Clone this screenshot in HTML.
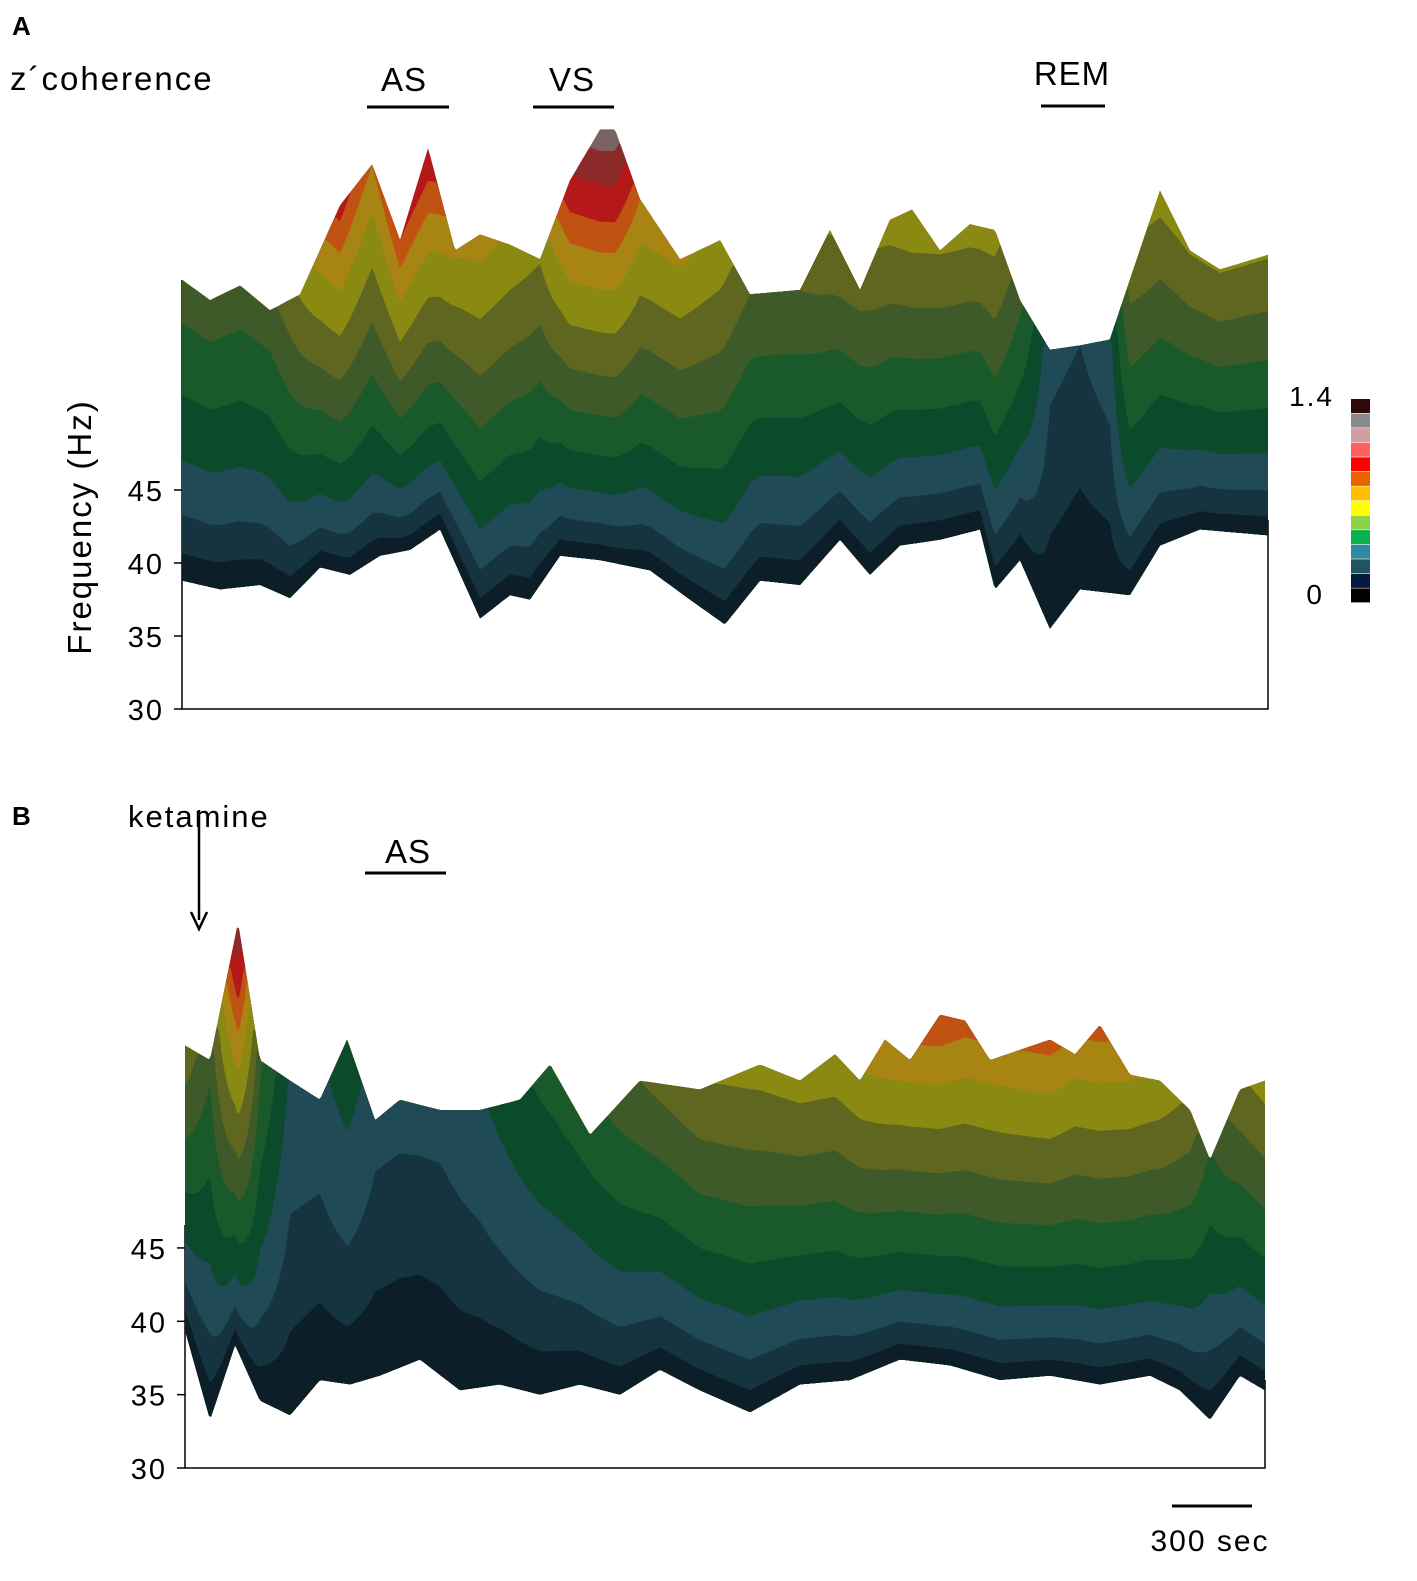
<!DOCTYPE html>
<html><head><meta charset="utf-8"><style>
html,body{margin:0;padding:0;background:#fff;}
svg{display:block;font-family:"Liberation Sans","DejaVu Sans",sans-serif;}
</style></head><body>
<svg id="fig" width="1417" height="1581" viewBox="0 0 1417 1581" xmlns="http://www.w3.org/2000/svg">
<g id="panelA"></g>
<g id="panelB"></g>
<g fill="#000">
 <text x="12" y="35" font-size="26" font-weight="bold">A</text>
 <text x="10" y="90" font-size="33" letter-spacing="2">z´coherence</text>
 <text x="404" y="91" font-size="33" letter-spacing="1" text-anchor="middle">AS</text>
 <line x1="367" y1="107" x2="449" y2="107" stroke="#000" stroke-width="3"/>
 <text x="572" y="91" font-size="33" letter-spacing="1" text-anchor="middle">VS</text>
 <line x1="533" y1="107" x2="614" y2="107" stroke="#000" stroke-width="3"/>
 <text x="1072" y="85" font-size="33" letter-spacing="1" text-anchor="middle">REM</text>
 <line x1="1041" y1="106" x2="1105" y2="106" stroke="#000" stroke-width="3"/>
 <text transform="translate(91,527) rotate(-90)" font-size="33" letter-spacing="2" text-anchor="middle">Frequency (Hz)</text>
 <text x="1334" y="406" font-size="28" letter-spacing="2" text-anchor="end">1.4</text>
 <text x="1322" y="604" font-size="28" text-anchor="end">0</text>
 <g id="cbar"></g>
 <text x="12" y="825" font-size="26" font-weight="bold">B</text>
 <text x="128" y="827" font-size="31" letter-spacing="2">ketamine</text>
 <line x1="199" y1="810" x2="199" y2="920" stroke="#000" stroke-width="2.5"/>
 <path d="M191,912 L199,929 L207,912" fill="none" stroke="#000" stroke-width="2.5"/>
 <text x="408" y="863" font-size="33" letter-spacing="1" text-anchor="middle">AS</text>
 <line x1="365" y1="873" x2="446" y2="873" stroke="#000" stroke-width="3"/>
 <line x1="1172" y1="1506" x2="1252" y2="1506" stroke="#000" stroke-width="3"/>
 <text x="1210" y="1551" font-size="30" letter-spacing="2" text-anchor="middle">300 sec</text>
</g>
</svg>
<script>
// Panel A data (time in sec, heights in projected Hz units, coherence peak)
const aTopT = [0,105,218,330,443,593,713,818,923,1024,1118,1230,1343,1455,1568,1624,1718,1868,2018,2130,2318,2430,2543,2655,2738,2843,2955,3049,3143,3255,3368,3480,3555,3668,3780,3893,4073];
const aTopHz = [59.4,58.0,59.0,57.3,58.4,64.5,67.3,62.1,68.4,61.4,62.5,61.8,60.8,66.2,69.7,69.7,64.9,60.8,62.1,58.4,58.7,62.8,58.7,63.5,64.2,61.4,63.2,62.8,58.0,54.6,54.9,55.3,59.4,65.5,61.4,60.1,61.1];
const aCoh = [0.55,0.55,0.55,0.55,0.75,1.15,1.0,1.1,1.2,0.9,0.95,0.85,0.75,1.2,1.4,1.4,1.0,0.9,0.85,0.6,0.6,0.75,0.65,0.8,0.85,0.75,0.8,0.8,0.5,0.15,0.12,0.18,0.65,0.8,0.75,0.75,0.75];
const aBotT = [0,143,293,405,518,630,743,855,968,1118,1230,1305,1418,1568,1755,1905,2036,2168,2318,2468,2580,2693,2843,2993,3049,3143,3255,3368,3555,3668,3818,4073];
const aBotHz = [38.8,38.2,38.5,37.6,39.7,39.2,40.5,40.9,42.3,36.2,37.8,37.5,40.5,40.2,39.5,37.5,35.8,38.8,38.5,41.6,39.2,41.2,41.6,42.3,38.2,40.2,35.5,38.2,37.8,41.2,42.3,41.9];
// Panel B data
const bTopT = [0,94,199,281,394,506,608,713,806,956,1106,1256,1369,1519,1706,1931,2156,2306,2438,2531,2625,2719,2831,2925,3019,3131,3244,3338,3431,3544,3656,3769,3844,3956,4050];
const bTopHz = [58.8,57.8,67.2,57.8,56.4,55.1,59.2,53.7,55.1,54.4,54.4,55.1,57.5,52.7,56.4,55.8,57.5,56.4,58.2,56.4,59.2,57.8,60.9,60.5,57.8,58.5,59.2,58.2,60.2,56.8,56.4,54.4,51.0,55.8,56.4];
const bCoh = [0.7,0.5,1.35,0.5,0.2,0.18,0.3,0.15,0.15,0.15,0.2,0.3,0.4,0.4,0.6,0.72,0.8,0.8,0.85,0.85,1.0,0.95,1.1,1.05,0.95,1.0,1.05,0.95,1.05,0.9,0.85,0.7,0.45,0.7,0.8];
const bBotT = [0,94,188,281,394,506,619,731,881,1031,1181,1331,1481,1631,1781,1931,2119,2306,2494,2681,2869,3056,3244,3431,3619,3731,3844,3956,4050];
const bBotHz = [39.4,33.3,38.4,34.6,33.6,36.0,35.7,36.3,37.4,35.3,35.7,35.0,35.7,35.0,36.7,35.3,33.8,35.7,36.0,37.4,37.0,36.0,36.3,35.7,36.3,35.3,33.3,36.3,35.3];
const yTicks = [30,35,40,45];
const cbarColors = ["#000000","#061a40","#1f5560","#2e8aa0","#0ab050","#8ed24a","#ffff00","#ffbe00","#e86400","#ff0000","#ff6060","#d0a0a0","#8a8a8a","#300a0a"];
// surface shaded band levels and colours
const bandLevels = [0,0.05,0.12,0.22,0.34,0.47,0.6,0.74,0.88,1.0,1.1,1.22,1.33];
const bandColors = ["#0c1e28","#15343f","#1f4a56","#0b4a2a","#1a5a2a","#3e5a28","#5e6620","#8a8a12","#a88412","#c05212","#b51818","#8c2a2a","#7a6262"];

const NS = "http://www.w3.org/2000/svg";
function interp(ts, vs, t){
  if (t <= ts[0]) return vs[0];
  for (let i = 1; i < ts.length; i++) if (t <= ts[i]) { const f = (t - ts[i-1]) / (ts[i] - ts[i-1]); return vs[i-1] + f * (vs[i] - vs[i-1]); }
  return vs[vs.length-1];
}
function drawPanel(g, cfg){
  const yS = hz => cfg.y30 - (hz - 30) * cfg.pxHz;
  const ax = document.createElementNS(NS, "path");
  
  
  ax.setAttribute("d", `M${cfg.x0},${cfg.axTop} L${cfg.x0},${yS(30)} L${cfg.x1},${yS(30)} L${cfg.x1},${cfg.rTop}`);
  ax.setAttribute("fill", "none"); ax.setAttribute("stroke", "#000"); ax.setAttribute("stroke-width", "1.5");
  g.appendChild(ax);
  yTicks.forEach(v => {
    const tk = document.createElementNS(NS, "line");
    
    
    tk.setAttribute("x1", cfg.x0 - 8); tk.setAttribute("x2", cfg.x0); tk.setAttribute("y1", yS(v)); tk.setAttribute("y2", yS(v));
    tk.setAttribute("stroke", "#000"); tk.setAttribute("stroke-width", "1.5");
    g.appendChild(tk);
    const tx = document.createElementNS(NS, "text");
    
    
    tx.setAttribute("x", cfg.x0 - 18); tx.setAttribute("y", yS(v) + 11);
    tx.setAttribute("font-size", "29"); tx.setAttribute("letter-spacing", "2"); tx.setAttribute("text-anchor", "end");
    tx.textContent = v; g.appendChild(tx);
  });
  const pts = [];
  for (let x = cfg.x0; x <= cfg.x1; x += 2) {
    const t = (x - cfg.x0) / (cfg.x1 - cfg.x0) * cfg.tMax;
    const top = yS(interp(cfg.topT, cfg.topHz, t));
    const bot = yS(interp(cfg.botT, cfg.botHz, t));
    const c = interp(cfg.topT, cfg.coh, t);
    pts.push({x, top, bot: Math.max(bot, top + 2), c});
  }
  const botPath = pts.slice().reverse().map(p => `L${p.x},${p.bot.toFixed(1)}`).join("");
  for (let k = bandLevels.length - 1; k >= 0; k--) {
    const L = k + 1 < bandLevels.length ? bandLevels[k+1] : 99;
    const d = pts.map((p, i) => {
      const f = Math.min(1, L / Math.max(p.c, 0.01));
      const y = p.bot - (p.bot - p.top) * f;
      return (i ? "L" : "M") + p.x + "," + y.toFixed(1);
    }).join("") + botPath + "Z";
    const path = document.createElementNS(NS, "path");
    
    
    path.setAttribute("d", d); path.setAttribute("fill", bandColors[k]);
    g.appendChild(path);
  }
}
drawPanel(document.getElementById("panelA"), {x0:182,x1:1268,tMax:4073,y30:709,pxHz:14.6,axTop:280,rTop:520,
  topT:aTopT,topHz:aTopHz,coh:aCoh,botT:aBotT,botHz:aBotHz});
drawPanel(document.getElementById("panelB"), {x0:185,x1:1265,tMax:4050,y30:1468,pxHz:14.67,axTop:1225,rTop:1380,
  topT:bTopT,topHz:bTopHz,coh:bCoh,botT:bBotT,botHz:bBotHz});
const cb = document.getElementById("cbar");
const cbH = (603 - 399) / cbarColors.length;
cbarColors.forEach((col, i) => {
  const r = document.createElementNS(NS, "rect");
  
  
  r.setAttribute("x", 1351); r.setAttribute("width", 19);
  r.setAttribute("y", (603 - (i + 1) * cbH).toFixed(1)); r.setAttribute("height", (cbH - 0.6).toFixed(1));
  r.setAttribute("fill", col); cb.appendChild(r);
});
</script>
</body></html>
